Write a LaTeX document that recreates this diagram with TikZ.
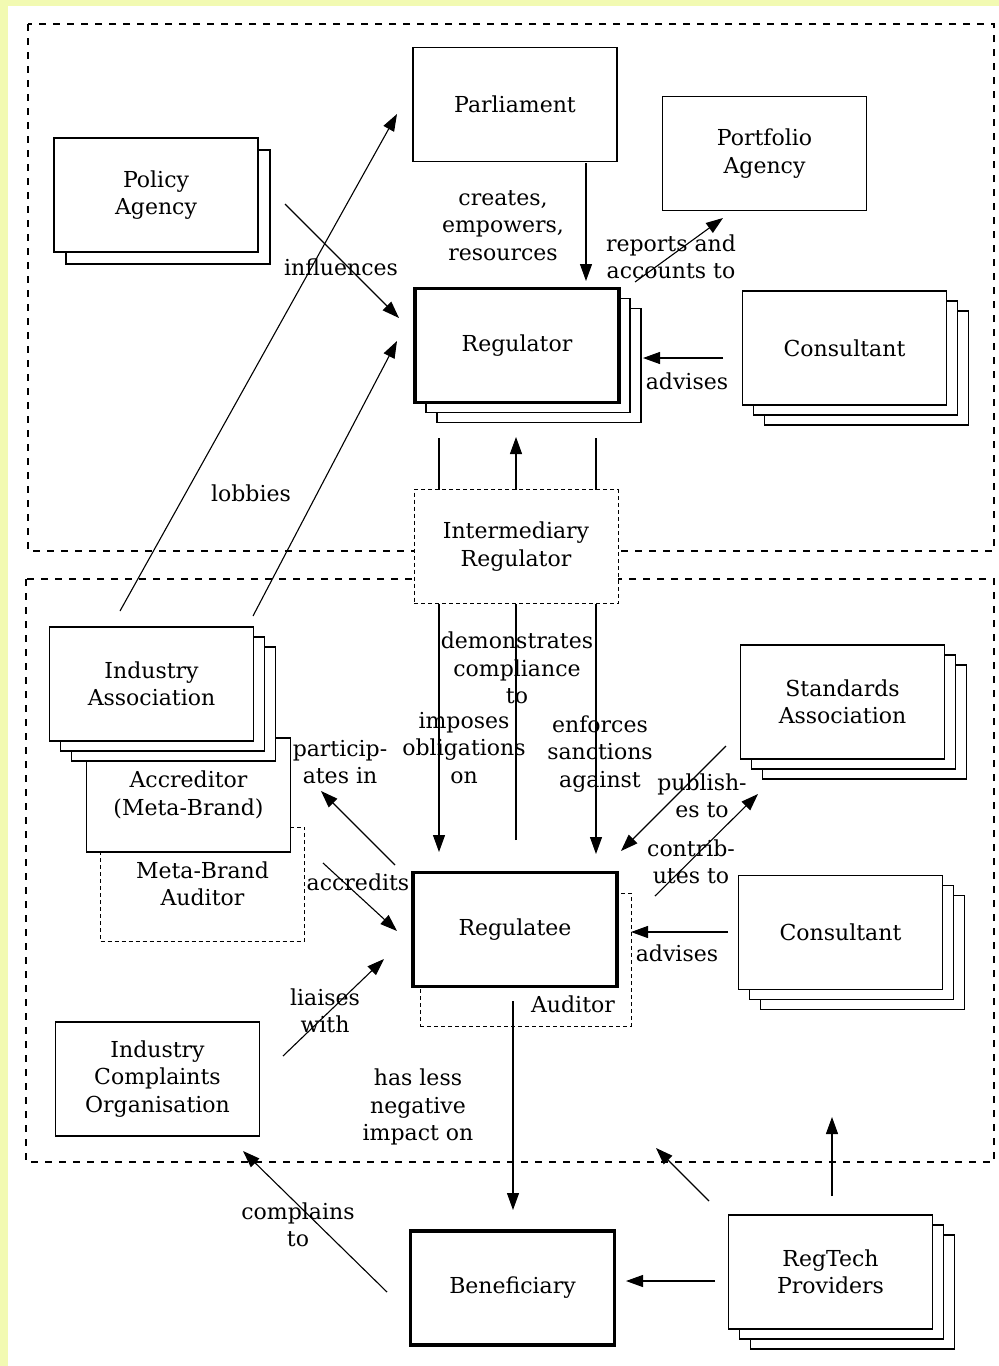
\documentclass[tikz,border=0pt]{standalone}
\usepackage{fontspec}
\setmainfont{DejaVu Serif}
\usetikzlibrary{arrows.meta,shadows}
\definecolor{paleyellow}{RGB}{242,250,178}

\begin{document}
\begin{tikzpicture}[x=1pt,y=-1pt,font=\fontsize{22}{27.5}\selectfont,
	box/.style={draw,fill=white,line width=1.4pt,minimum width=204pt,minimum height=114pt,inner sep=0pt,align=center},
	heavy/.style={box,line width=3.2pt},
	stackone/.style={copy shadow={shadow xshift=12pt,shadow yshift=-12pt,line width=1.4pt}},
	stacktwo/.style={double copy shadow={shadow xshift=11pt,shadow yshift=-10pt,line width=1.4pt}},
	dashbox/.style={box,dash pattern=on 4pt off 3pt,line width=1pt},
	region/.style={dash pattern=on 7pt off 7pt,line width=1.1pt},
	arr/.style={-{Triangle[length=17pt,width=12pt]},line width=1.1pt},
	lbl/.style={align=center,inner sep=0pt}]
	%page and margins
	\useasboundingbox (0,0) rectangle (999,1366);
	\fill[white] (0,0) rectangle (999,1366);
	\fill[paleyellow] (0,0) rectangle (999,6);
	\fill[paleyellow] (0,0) rectangle (8,1366);

	%government and industry regions
	\draw[region] (28,24) rectangle (994,551);
	\draw[region] (26,579) rectangle (994,1162);

	%boxes
	\node[box] (parliament) at (515,104.5) {Parliament};
	\node[box] (portfolio) at (764.5,153.5) {Portfolio\\Agency};
	\node[box,stackone] (policy) at (156,195) {Policy\\Agency};
	\node[heavy,stacktwo] (regulator) at (517,345.5) {Regulator};
	\node[box,stacktwo] (consultanttop) at (844.5,348) {Consultant};
	\node[box,stacktwo] (standards) at (842.5,702) {Standards\\Association};
	\node[box,stacktwo] (consultantbot) at (840.5,932.5) {Consultant};
	\node[dashbox] (mbauditor) at (202.5,884) {Meta-Brand\\Auditor};
	\node[box] (accreditor) at (188.5,795) {Accreditor\\(Meta-Brand)};
	\node[box,stacktwo] (industry) at (151.5,684) {Industry\\Association};
	\node[dashbox,minimum width=211pt,minimum height=133pt] (auditor) at (525.5,959.5) {};
	\node[heavy] (regulatee) at (515,929.5) {Regulatee};
	\node[lbl] (auditorlbl) at (573,1004) {Auditor};
	\node[box] (complaints) at (157.5,1079) {Industry\\Complaints\\Organisation};
	\node[heavy] (beneficiary) at (512.5,1288) {Beneficiary};
	\node[box,stacktwo] (regtech) at (830.5,1272) {RegTech\\Providers};

	%arrow ends
	\coordinate (iaA) at (120,611); \coordinate (parlIn) at (397,114);
	\coordinate (iaB) at (253,616); \coordinate (regInB) at (397,341);
	\coordinate (polOut) at (285,204); \coordinate (regInA) at (399,318);
	\coordinate (parlOut) at (586,163); \coordinate (regInTop) at (586,281);
	\coordinate (regOutTop) at (635,282); \coordinate (portIn) at (723,218);
	\coordinate (consOutA) at (723,358); \coordinate (regInRight) at (643,358);
	\coordinate (regOutL) at (439,438); \coordinate (rteInL) at (439,852);
	\coordinate (rteOutM) at (516,840); \coordinate (regInM) at (516,437);
	\coordinate (regOutR) at (596,438); \coordinate (rteInR) at (596,854);
	\coordinate (rteOutA) at (395,865); \coordinate (accIn) at (321,791);
	\coordinate (accOut) at (323,863); \coordinate (rteInA) at (397,931);
	\coordinate (icoOut) at (283,1056); \coordinate (rteInB) at (384,959);
	\coordinate (stdOut) at (726,746); \coordinate (rteInC) at (621,851);
	\coordinate (rteOutB) at (655,896); \coordinate (stdIn) at (758,794);
	\coordinate (consOutB) at (728,932); \coordinate (rteInRight) at (631,932);
	\coordinate (rteOutC) at (513,1001); \coordinate (benIn) at (513,1210);
	\coordinate (benOut) at (387,1292); \coordinate (icoIn) at (243,1151);
	\coordinate (rtOutA) at (709,1201); \coordinate (indIn) at (656,1148);
	\coordinate (rtOutB) at (832,1196); \coordinate (consIn) at (832,1117);
	\coordinate (rtOutC) at (715,1281); \coordinate (benInRight) at (626,1281);

	%arrows
	\draw[arr] (iaA) -- (parlIn);
	\draw[arr] (iaB) -- (regInB);
	\draw[arr] (polOut) -- (regInA);
	\draw[arr] (parlOut) -- (regInTop);
	\draw[arr] (regOutTop) -- (portIn);
	\draw[arr] (consOutA) -- (regInRight);
	\draw[arr] (regOutL) -- (rteInL); %imposes
	\draw[arr] (rteOutM) -- (regInM); %demonstrates
	\draw[arr] (regOutR) -- (rteInR); %enforces
	\draw[arr] (rteOutA) -- (accIn);
	\draw[arr] (accOut) -- (rteInA);
	\draw[arr] (icoOut) -- (rteInB);
	\draw[arr] (stdOut) -- (rteInC);
	\draw[arr] (rteOutB) -- (stdIn);
	\draw[arr] (consOutB) -- (rteInRight);
	\draw[arr] (rteOutC) -- (benIn);
	\draw[arr] (benOut) -- (icoIn);
	\draw[arr] (rtOutA) -- (indIn);
	\draw[arr] (rtOutB) -- (consIn);
	\draw[arr] (rtOutC) -- (benInRight);

	%intermediary sits over the three lines
	\node[dashbox] (intermediary) at (516,546.5) {Intermediary\\Regulator};

	%labels
	\node[lbl] (lobbies) at (251,493) {lobbies};
	\node[lbl] (influences) at (341,267) {influences};
	\node[lbl] (creates) at (503,225.5) {creates,\\empowers,\\resources};
	\node[lbl] (reports) at (671,257) {reports and\\accounts to};
	\node[lbl] (advisestop) at (687,381) {advises};
	\node[lbl] (demonstrates) at (517,668) {demonstrates\\compliance\\to};
	\node[lbl] (imposes) at (464,748) {imposes\\obligations\\on};
	\node[lbl] (enforces) at (600,754) {enforces\\sanctions\\against};
	\node[lbl] (participates) at (340,762) {particip-\\ates in};
	\node[lbl] (accredits) at (358,882) {accredits};
	\node[lbl] (publishes) at (702,796) {publish-\\es to};
	\node[lbl] (contributes) at (691,862) {contrib-\\utes to};
	\node[lbl] (advisesbot) at (677,953) {advises};
	\node[lbl] (liaises) at (325,1011) {liaises\\with};
	\node[lbl] (impact) at (418,1107) {has less\\negative\\impact on};
	\node[lbl] (complains) at (298,1225) {complains\\to};
\end{tikzpicture}
\end{document}
